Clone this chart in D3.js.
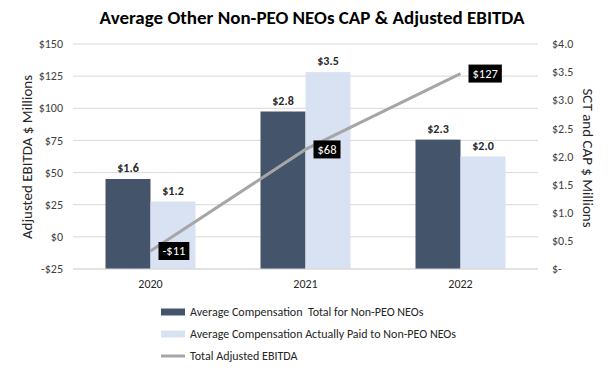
<!DOCTYPE html>
<html>
<head>
<meta charset="utf-8">
<script src="https://cdn.jsdelivr.net/npm/d3@7"></script>
<style>
  body { margin: 0; background: #fff; }
  svg text { font-family: Calibri, Carlito, Lato, sans-serif; }
</style>
</head>
<body>
<svg id="chart" width="615" height="372"></svg>
<script>
const years = ["2020", "2021", "2022"];
const sctTotal = [1.6, 2.8, 2.3];
const capPaid = [1.2, 3.5, 2.0];
const ebitda = [-11, 68, 127];
const leftTicks = [-25, 0, 25, 50, 75, 100, 125, 150];
const rightTicks = [0, 0.5, 1.0, 1.5, 2.0, 2.5, 3.0, 3.5, 4.0];
const seriesNames = [
  "Average Compensation  Total for Non-PEO NEOs",
  "Average Compensation Actually Paid to Non-PEO NEOs",
  "Total Adjusted EBITDA"
];

const svg = d3.select("#chart");
const dark = "#44546a", light = "#d9e2f3", lineColor = "#a6a6a6";
const plot = { left: 73, right: 538, top: 44, bottom: 269 };

const x = d3.scaleBand().domain(years).range([plot.left, plot.right]);
const yL = d3.scaleLinear().domain([-25, 150]).range([plot.bottom, plot.top]);
const yR = d3.scaleLinear().domain([0, 4]).range([plot.bottom, plot.top]);
const barW = 45;

// title
svg.append("text")
  .attr("x", 312).attr("y", 24)
  .attr("text-anchor", "middle")
  .style("font-size", "19px").style("font-weight", "bold")
  .text("Average Other Non-PEO NEOs CAP & Adjusted EBITDA");

// gridlines
svg.selectAll(".grid").data(leftTicks).enter().append("line")
  .attr("x1", plot.left).attr("x2", plot.right)
  .attr("y1", d => yL(d)).attr("y2", d => yL(d))
  .attr("stroke", "#d9d9d9").attr("stroke-width", 1);

// left ticks
svg.selectAll(".lt").data(leftTicks).enter().append("text")
  .attr("x", 63).attr("y", d => yL(d)).attr("dy", "0.35em")
  .attr("text-anchor", "end").style("font-size", "12px").attr("fill", "#404040")
  .text(d => d < 0 ? "-$" + Math.abs(d) : "$" + d);

// right ticks
svg.selectAll(".rt").data(rightTicks).enter().append("text")
  .attr("x", 552).attr("y", d => yR(d)).attr("dy", "0.35em")
  .style("font-size", "12px").attr("fill", "#404040")
  .text(d => d === 0 ? "$-" : "$" + d.toFixed(1));

// axis titles
svg.append("text")
  .attr("transform", `translate(27,157) rotate(-90)`)
  .attr("text-anchor", "middle").attr("dy", "0.35em")
  .style("font-size", "15px").attr("fill", "#262626")
  .text("Adjusted EBITDA $ Millions");
svg.append("text")
  .attr("transform", `translate(588,158) rotate(90)`)
  .attr("text-anchor", "middle").attr("dy", "0.35em")
  .style("font-size", "15px").attr("fill", "#262626")
  .text("SCT and CAP $ Millions");

// x labels
svg.selectAll(".xl").data(years).enter().append("text")
  .attr("x", d => x(d) + x.bandwidth() / 2).attr("y", 288)
  .attr("text-anchor", "middle").style("font-size", "12px").attr("fill", "#262626")
  .text(d => d);

// bars
const barSeries = [
  { values: sctTotal, color: dark, off: -barW },
  { values: capPaid, color: light, off: 0 }
];
barSeries.forEach(s => {
  years.forEach((yr, i) => {
    const cx = x(yr) + x.bandwidth() / 2;
    svg.append("rect")
      .attr("x", cx + s.off).attr("width", barW)
      .attr("y", yR(s.values[i])).attr("height", yR(0) - yR(s.values[i]))
      .attr("fill", s.color);
    svg.append("text")
      .attr("x", cx + s.off + barW / 2).attr("y", yR(s.values[i]) - 7)
      .attr("text-anchor", "middle")
      .style("font-size", "12px").style("font-weight", "bold").attr("fill", "#262626")
      .text("$" + s.values[i].toFixed(1));
  });
});

// baseline
svg.append("line")
  .attr("x1", plot.left).attr("x2", plot.right)
  .attr("y1", plot.bottom).attr("y2", plot.bottom)
  .attr("stroke", "#d9d9d9");

// EBITDA line
const line = d3.line()
  .x((d, i) => x(years[i]) + x.bandwidth() / 2)
  .y(d => yL(d));
svg.append("path")
  .attr("d", line(ebitda))
  .attr("fill", "none").attr("stroke", lineColor).attr("stroke-width", 3);

// line labels
ebitda.forEach((v, i) => {
  const px = x(years[i]) + x.bandwidth() / 2 + 8;
  const py = yL(v);
  const g = svg.append("g");
  const t = g.append("text")
    .attr("x", px + 4).attr("y", py).attr("dy", "0.35em")
    .style("font-size", "12.5px").attr("fill", "#fff")
    .text(v < 0 ? "-$" + Math.abs(v) : "$" + v);
  const w = t.node().getComputedTextLength();
  g.insert("rect", "text")
    .attr("x", px).attr("y", py - 9)
    .attr("width", w + 8).attr("height", 18)
    .attr("fill", "#000");
});

// legend
const legendY = [312, 334, 356];
seriesNames.forEach((name, i) => {
  if (i < 2) {
    svg.append("rect")
      .attr("x", 161).attr("y", legendY[i] - 3.5)
      .attr("width", 24).attr("height", 7)
      .attr("fill", i === 0 ? dark : light);
  } else {
    svg.append("line")
      .attr("x1", 161).attr("x2", 185)
      .attr("y1", legendY[i]).attr("y2", legendY[i])
      .attr("stroke", lineColor).attr("stroke-width", 3);
  }
  svg.append("text")
    .attr("x", 190).attr("y", legendY[i]).attr("dy", "0.35em")
    .style("font-size", "12px").attr("fill", "#262626")
    .style("white-space", "pre")
    .text(name);
});
</script>
</body>
</html>
